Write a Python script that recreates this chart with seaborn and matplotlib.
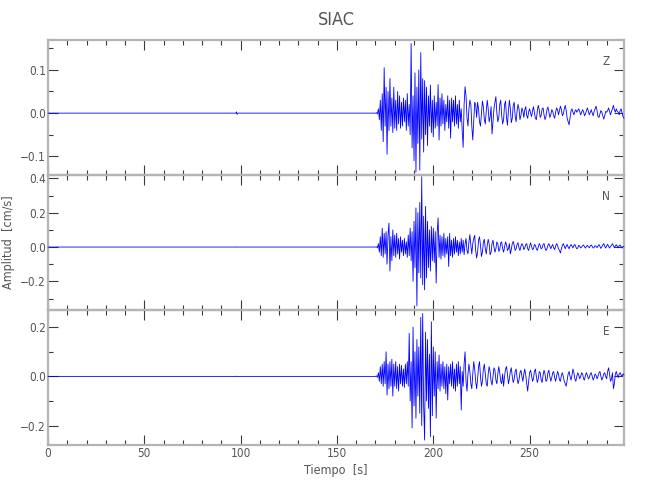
import numpy as np
import pandas as pd
import matplotlib
matplotlib.use("Agg")
import matplotlib.pyplot as plt
from matplotlib import font_manager
from matplotlib.ticker import MultipleLocator, FuncFormatter
import seaborn as sns

# ---------------- data ----------------
station = "SIAC"
components = ["Z", "N", "E"]
xlabel = "Tiempo  [s]"
ylabel = "Amplitud  [cm/s]"

# pre-event (quiet) samples
pre_time = [0.0, 97.5, 97.8, 98.1, 98.4, 169.5]
z_pre = [0.0, 0.0, 0.003, -0.003, 0.0, 0.0]
n_pre = [0.0, 0.0, 0.001, -0.001, 0.0, 0.0]
e_pre = [0.0, 0.0, 0.001, -0.001, 0.0, 0.0]

# event samples, starting at T0 with step DT seconds
T0 = 170.0
DT = 0.5
z_vals = [
    0.000, 0.001, -0.002, 0.010, -0.015, 0.030, -0.040, 0.045, -0.066, 0.105,
    -0.030, 0.060, -0.095, 0.050, -0.040, 0.080, -0.030, 0.035, -0.045, 0.060,
    -0.035, 0.030, -0.040, 0.050, -0.025, 0.040, -0.035, 0.025, -0.030, 0.035,
    -0.020, 0.030, -0.040, 0.045, -0.030, 0.020, -0.050, 0.161, -0.080, 0.040,
    -0.110, 0.093, -0.136, 0.060, -0.070, 0.100, -0.132, 0.140, -0.060, 0.080,
    -0.090, 0.075, -0.050, 0.060, -0.075, 0.040, -0.030, 0.065, -0.045, 0.030,
    -0.055, 0.040, -0.035, 0.025, -0.030, 0.066, -0.062, 0.035, -0.030, 0.045,
    -0.025, 0.030, -0.040, 0.020, -0.020, 0.040, -0.035, 0.030, -0.058, 0.035,
    -0.020, 0.030, -0.030, 0.040, -0.025, 0.020, -0.035, 0.030, -0.020, 0.010,
    -0.040, -0.079, 0.020, 0.061, 0.040, -0.010, -0.030, 0.010, 0.030, 0.020,
    -0.030, -0.062, -0.020, 0.025, 0.020, -0.010, 0.025, 0.010, -0.020, -0.030,
    0.000, 0.028, 0.015, -0.015, -0.025, 0.005, 0.030, 0.010, -0.020, -0.010,
    0.015, -0.048, -0.020, 0.010, 0.025, 0.038, 0.000, -0.020, -0.010, 0.020,
    0.030, -0.005, -0.025, -0.015, 0.020, 0.028, -0.010, -0.028, 0.005, 0.030,
    0.010, -0.022, -0.012, 0.018, 0.025, -0.008, -0.020, 0.005, 0.020, 0.010,
    -0.015, -0.005, 0.012, 0.005, -0.010, 0.008, 0.015, -0.005, -0.012, 0.003,
    0.010, 0.000, -0.008, 0.005, 0.015, 0.002, -0.012, -0.015, 0.005, 0.018,
    0.008, -0.010, -0.005, 0.010, 0.012, -0.004, -0.015, -0.008, 0.008, 0.014,
    0.003, -0.010, -0.004, 0.008, 0.004, -0.006, -0.012, 0.002, 0.012, 0.008,
    -0.004, 0.006, 0.016, 0.008, -0.006, -0.002, 0.010, 0.018, 0.006, -0.012,
    -0.020, -0.027, -0.010, 0.005, 0.010, 0.002, -0.004, 0.004, 0.008, 0.002,
    0.006, 0.010, 0.004, -0.004, 0.002, 0.008, 0.003, -0.006, -0.002, 0.006,
    0.012, 0.004, -0.004, 0.002, 0.008, 0.000, -0.006, 0.004, 0.010, 0.016,
    0.006, -0.008, -0.010, -0.002, 0.006, 0.002, -0.006, -0.014, -0.006, 0.004,
    0.002, 0.006, 0.012, 0.004, -0.004, 0.004, 0.010, 0.018, 0.008, 0.002,
    0.010, 0.004, 0.002, -0.004, 0.006, 0.010, 0.000, -0.008, -0.012,
]
n_vals = [
    0.000, 0.002, -0.005, 0.020, -0.030, 0.060, -0.050, 0.110, -0.060, 0.080,
    -0.040, 0.090, -0.100, 0.070, 0.140, -0.140, 0.060, -0.080, 0.100, -0.050,
    0.070, -0.060, 0.080, -0.040, 0.050, -0.070, 0.060, -0.030, 0.040, -0.050,
    0.050, -0.040, 0.030, -0.060, 0.070, -0.050, 0.110, -0.080, 0.090, -0.200,
    0.150, -0.120, 0.228, -0.343, 0.200, -0.150, 0.260, -0.180, 0.410, -0.220,
    0.180, -0.250, 0.237, -0.180, 0.150, -0.120, 0.100, -0.140, 0.120, -0.080,
    0.110, -0.090, 0.090, -0.210, 0.080, 0.170, -0.060, 0.070, -0.070, 0.060,
    -0.050, 0.080, -0.060, 0.050, -0.040, 0.060, -0.113, 0.080, -0.050, 0.040,
    -0.060, 0.050, -0.040, 0.060, -0.030, 0.040, -0.050, 0.030, -0.040, 0.050,
    -0.030, 0.040, -0.045, 0.020, 0.050, -0.020, -0.040, 0.030, 0.072, 0.010,
    -0.040, 0.020, 0.050, 0.068, -0.020, -0.064, -0.030, 0.040, 0.060, 0.010,
    -0.055, -0.030, 0.030, 0.045, -0.010, -0.040, 0.010, 0.045, 0.020, -0.045,
    -0.030, 0.020, 0.040, 0.000, -0.030, -0.010, 0.030, 0.020, -0.025, -0.015,
    0.025, 0.030, -0.010, -0.030, 0.000, 0.030, 0.015, -0.020, -0.010, 0.020,
    -0.040, -0.015, 0.020, 0.033, 0.010, -0.020, -0.010, 0.015, 0.025, -0.005,
    -0.020, 0.005, 0.020, 0.010, -0.015, -0.005, 0.015, 0.020, -0.010, -0.020,
    0.005, 0.025, 0.005, -0.015, -0.010, 0.015, 0.010, -0.010, -0.020, 0.000,
    0.020, 0.010, -0.010, -0.005, 0.015, 0.020, -0.005, -0.020, -0.010, 0.010,
    0.020, 0.005, -0.010, 0.005, 0.015, -0.005, -0.015, 0.005, 0.020, 0.010,
    -0.010, -0.020, -0.035, -0.010, 0.010, 0.020, 0.005, -0.010, 0.005, 0.015,
    0.000, -0.010, 0.005, 0.015, 0.005, -0.005, 0.010, 0.015, 0.000, -0.010,
    -0.005, 0.010, 0.005, -0.005, 0.000, 0.008, 0.012, 0.002, -0.006, 0.004,
    0.010, 0.002, -0.004, 0.006, 0.012, 0.004, -0.006, -0.002, 0.008, 0.004,
    -0.004, 0.006, 0.014, 0.004, -0.008, 0.002, 0.012, 0.020, 0.004, -0.006,
    0.006, 0.016, 0.004, -0.006, 0.004, 0.010, 0.020, 0.008, -0.004, 0.006,
    0.014, 0.004, -0.004, 0.008, 0.012, 0.002, -0.006, 0.004, 0.002,
]
e_vals = [
    0.000, 0.002, -0.004, 0.015, -0.020, 0.040, -0.030, 0.050, -0.040, 0.060,
    -0.030, 0.100, -0.076, 0.050, -0.050, 0.060, -0.040, 0.070, -0.080, 0.050,
    -0.040, 0.060, -0.050, 0.040, -0.060, 0.050, -0.030, 0.045, -0.040, 0.030,
    -0.045, 0.050, -0.030, 0.060, -0.040, 0.175, -0.100, 0.060, -0.210, 0.200,
    -0.120, 0.100, -0.170, 0.150, -0.080, 0.120, -0.150, 0.240, -0.200, 0.256,
    -0.120, -0.259, 0.180, -0.100, 0.150, -0.130, 0.090, -0.245, 0.222, -0.160,
    0.120, -0.080, 0.100, -0.170, 0.060, -0.050, 0.087, -0.060, 0.050, -0.040,
    0.060, -0.050, 0.040, -0.070, 0.050, -0.096, 0.040, -0.030, 0.050, -0.040,
    0.060, -0.050, 0.030, -0.060, 0.050, -0.040, 0.060, -0.030, 0.040, -0.137,
    0.020, -0.040, 0.050, 0.100, -0.020, -0.060, 0.010, 0.050, 0.020, -0.030,
    -0.050, 0.010, 0.060, 0.030, -0.020, -0.050, -0.010, 0.040, 0.060, 0.000,
    -0.040, -0.020, 0.030, 0.050, 0.010, -0.030, -0.040, 0.010, 0.040, 0.020,
    -0.020, -0.035, 0.000, 0.035, 0.025, -0.015, -0.030, 0.010, 0.040, 0.015,
    -0.020, -0.030, 0.010, -0.040, 0.000, 0.030, 0.040, 0.010, -0.030, -0.010,
    0.020, 0.035, 0.000, -0.025, -0.010, 0.020, 0.030, -0.005, -0.030, -0.015,
    0.015, 0.025, 0.000, -0.020, 0.010, 0.030, 0.005, -0.030, -0.060, -0.020,
    0.015, 0.025, 0.005, -0.020, -0.010, 0.020, 0.030, 0.000, -0.025, -0.010,
    0.020, 0.015, -0.015, -0.025, 0.005, 0.025, 0.010, -0.020, -0.015, 0.015,
    0.025, 0.000, -0.020, -0.005, 0.015, 0.020, -0.005, -0.020, 0.000, 0.020,
    0.010, -0.015, -0.020, 0.005, 0.015, 0.000, -0.020, -0.030, -0.040, -0.015,
    0.010, 0.020, 0.000, -0.015, 0.005, 0.030, 0.015, -0.010, -0.020, 0.000,
    0.015, 0.005, -0.010, 0.000, 0.015, 0.010, -0.010, -0.015, 0.005, 0.015,
    0.005, -0.010, -0.005, 0.010, 0.015, 0.000, -0.015, -0.005, 0.010, 0.005,
    -0.010, 0.000, 0.015, 0.020, 0.000, -0.015, -0.005, 0.010, 0.015, 0.000,
    -0.010, 0.020, 0.035, 0.010, -0.020, -0.010, 0.015, -0.050, -0.030, 0.010,
    0.020, 0.005, -0.005, 0.010, 0.015, 0.005, 0.000, 0.010, 0.005,
]

x_ticks = [0, 50, 100, 150, 200, 250]
y_ticks = [[-0.1, 0.0, 0.1], [-0.2, 0.0, 0.2, 0.4], [-0.2, 0.0, 0.2]]

# ---------------- style ----------------
sns.set_style("ticks")
plt.rcParams["font.family"] = ["DejaVu Sans"]
plt.rcParams["font.stretch"] = "condensed"

TXT = "#555555"
SPINE = "#b4b4b4"
TICK = "#3a3a3a"

fig = plt.figure(figsize=(6.5, 5.0), dpi=100)
fig.patch.set_facecolor("white")

ylims = [(-0.143, 0.169), (-0.367, 0.42), (-0.279, 0.27)]
minor_y = [0.05, 0.1, 0.1]
bottoms = [0.65, 0.38, 0.11]
traces = [(z_pre, z_vals), (n_pre, n_vals), (e_pre, e_vals)]

def fmt(v, pos):
    s = "%.1f" % v
    if s == "-0.0":
        s = "0.0"
    return s.replace("-", "\u2212")

axes = []
for i, comp in enumerate(components):
    ax = fig.add_axes([48 / 650, bottoms[i], 576 / 650, 0.27])
    axes.append(ax)
    pre, vals = traces[i]
    t = list(pre_time) + list(T0 + DT * np.arange(len(vals)))
    y = list(pre) + list(vals)
    df = pd.DataFrame({"t": t, "amp": y})
    sns.lineplot(data=df, x="t", y="amp", ax=ax, color="#0000ff",
                 linewidth=0.6, estimator=None, sort=False, clip_on=False,
                 zorder=5 - i)
    ax.set_xlim(0, 299)
    ax.set_ylim(*ylims[i])
    ax.set_xlabel("")
    ax.set_ylabel("")
    ax.set_facecolor("none")
    for sp in ax.spines.values():
        sp.set_visible(True)
        sp.set_color(SPINE)
        sp.set_linewidth(1.6)
    ax.set_xticks(x_ticks)
    ax.xaxis.set_minor_locator(MultipleLocator(10))
    ax.set_yticks(y_ticks[i])
    ax.yaxis.set_minor_locator(MultipleLocator(minor_y[i]))
    ax.yaxis.set_major_formatter(FuncFormatter(fmt))
    ax.tick_params(which="both", direction="in", top=True, right=True,
                   color=TICK, labelcolor=TXT, labelsize=8.5, width=0.8, pad=1.5)
    ax.tick_params(which="major", length=7)
    ax.tick_params(which="minor", length=3.5)
    if i < 2:
        ax.tick_params(labelbottom=False)
    ax.text(0.969, 0.84, comp, transform=ax.transAxes, ha="center",
            va="center", fontsize=8.5, color=TXT)

axes[2].set_xlabel(xlabel, fontsize=9, color=TXT, labelpad=3)
axes[1].set_ylabel(ylabel, fontsize=9, color=TXT, labelpad=4)
fig.text(336 / 650, 1 - 20 / 500, station, ha="center", va="center",
         fontsize=13, color=TXT)

fig.savefig("out.png", dpi=100, facecolor="white")
